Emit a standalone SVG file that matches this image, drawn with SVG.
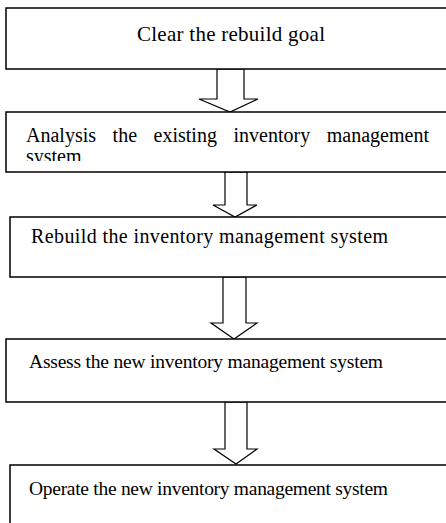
<svg xmlns="http://www.w3.org/2000/svg" width="446" height="523" viewBox="0 0 446 523">
<style>
.box{fill:#fff;stroke:#000;stroke-width:1.5}
.arr{fill:#fff;stroke:#000;stroke-width:1.2;stroke-linejoin:miter}
.t{font-family:"Liberation Serif","Times New Roman",serif;fill:#000}
</style>
<defs>
<clipPath id="c2"><rect x="6" y="112" width="440" height="49"/></clipPath>
</defs>
<rect width="446" height="523" fill="#fff"/>
<g id="connectors">
<polygon class="arr" points="217,69 244,69 244,99 258,99 230,112 199,99 217,99"/>
<polygon class="arr" points="225,172 247,172 247,205 257,205 235,217 213,205 225,205"/>
<polygon class="arr" points="223,277 246,277 246,323 257,323 234,339 211,323 223,323"/>
<polygon class="arr" points="225,402 247,402 247,449 257,449 236,464 214,449 225,449"/>
</g>
<g id="n1">
<rect class="box" x="6" y="8" width="450" height="61"/>
<text class="t" x="137" y="41" font-size="21" textLength="188" lengthAdjust="spacing">Clear the rebuild goal</text>
</g>
<g id="n2">
<rect class="box" x="6" y="112" width="450" height="60"/>
<g clip-path="url(#c2)" class="t" font-size="20">
<text x="26" y="142">Analysis</text>
<text x="112.6" y="142">the</text>
<text x="153.6" y="142">existing</text>
<text x="233.5" y="142">inventory</text>
<text x="326.8" y="142">management</text>
<text x="26" y="163">system</text>
</g>
</g>
<g id="n3">
<rect class="box" x="10" y="217" width="450" height="60"/>
<text class="t" x="31" y="243" font-size="20" textLength="357" lengthAdjust="spacing">Rebuild the inventory management system</text>
</g>
<g id="n4">
<rect class="box" x="6" y="339" width="450" height="63"/>
<text class="t" x="29" y="368" font-size="19.5" textLength="354" lengthAdjust="spacing">Assess the new inventory management system</text>
</g>
<g id="n5">
<rect class="box" x="10" y="465" width="450" height="70"/>
<text class="t" x="29" y="495" font-size="19.5" textLength="359" lengthAdjust="spacing">Operate the new inventory management system</text>
</g>
</svg>
